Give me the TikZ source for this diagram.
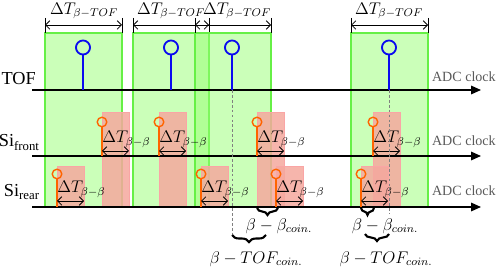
\documentclass[tikz,border=0pt]{standalone}
\usepackage{fontspec}
\setmainfont{Liberation Serif}
\usepackage{tikz}
\usetikzlibrary{arrows.meta, positioning, calc, decorations.pathreplacing}
\definecolor{wingreen}{RGB}{151,255,116}
\definecolor{winedge}{RGB}{102,240,70}
\definecolor{gatepink}{RGB}{245,168,158}
\definecolor{gateedge}{RGB}{250,165,165}
\definecolor{tofblue}{RGB}{10,10,240}
\definecolor{siorange}{RGB}{255,100,0}
\definecolor{clockgray}{RGB}{90,90,90}
\tikzset{
  window/.style={fill=wingreen, fill opacity=0.5, draw=winedge, line width=0.8pt},
  gate/.style={fill=gatepink, fill opacity=0.85, draw=gateedge, line width=0.5pt},
  axis/.style={-{Triangle[length=7pt, width=6pt]}, line width=1.1pt, color=black},
  tofhit/.style={circle, draw=tofblue, line width=1.3pt,
    minimum size=10pt, inner sep=0pt},
  tofstem/.style={line width=1.4pt, color=tofblue},
  sihit/.style={circle, draw=siorange, line width=1pt,
    minimum size=6.8pt, inner sep=0pt},
  sistem/.style={line width=1.1pt, color=siorange},
  dimarrow/.style={{Straight Barb[length=3pt]}-{Straight Barb[length=3pt]}, line width=0.6pt},
  dimline/.style={line width=0.6pt},
  dimlabel/.style={font=\large, inner sep=0pt},
  gatelabel/.style={font=\large, anchor=base west, inner sep=0pt},
  rowlabel/.style={font=\fontsize{13}{15}\selectfont, anchor=base east, inner sep=0pt},
  clocklabel/.style={font=\normalsize, color=clockgray, anchor=base east, inner sep=0pt},
  guide/.style={dash pattern=on 2pt off 1.5pt, color=gray, line width=0.4pt},
  coinbrace/.style={decorate, decoration={brace, mirror, amplitude=5pt}, line width=1.5pt},
  coinlabel/.style={font=\large, inner sep=0pt}
}

\begin{document}
\begin{tikzpicture}[x=0.025cm, y=-0.025cm]
  \useasboundingbox (0,0) rectangle (498,267);

  % Coincidence windows around the TOF hits
  \foreach \n/\l/\c/\r in {1/45/84/122, 2/133/171/209, 3/195/237/271, 4/351/389/428} {
    \draw[window] (\l,33) rectangle (\r,207);
    \coordinate (wl\n) at (\l,25);
    \coordinate (wr\n) at (\r,25);
    \draw[dimline] (\l,18) -- (\l,33) (\r,18) -- (\r,33);
    \draw[dimarrow] (wl\n) -- (wr\n);
    \node[dimlabel] (win\n) at (\c,11) {$\Delta T_{\beta-TOF}$};
  }

  % Gates opened by the Si hits
  \foreach \x in {102, 159, 257, 373}
    \draw[gate] (\x,112) rectangle ({\x+27},207);
  \foreach \x in {57, 201, 276, 361}
    \draw[gate] (\x,166) rectangle ({\x+27},207);

  % Time axes
  \coordinate (tofstart) at (32,90);
  \coordinate (tofend) at (481,90);
  \coordinate (frontstart) at (32,156);
  \coordinate (frontend) at (481,156);
  \coordinate (rearstart) at (32,207);
  \coordinate (rearend) at (481,207);
  \draw[axis] (tofstart) -- (tofend);
  \draw[axis] (frontstart) -- (frontend);
  \draw[axis] (rearstart) -- (rearend);
  \node[rowlabel] (toflabel) at (36,85) {TOF};
  \node[rowlabel] (frontlabel) at (40,147) {Si\textsubscript{front}};
  \node[rowlabel] (rearlabel) at (40,197) {Si\textsubscript{rear}};
  \node[clocklabel] (tofclock) at (496,82) {ADC clock};
  \node[clocklabel] (frontclock) at (496,146) {ADC clock};
  \node[clocklabel] (rearclock) at (496,196) {ADC clock};

  % TOF hits
  \foreach \n/\x in {1/83, 2/171, 3/232, 4/389} {
    \node[tofhit] (tof\n) at (\x,47.5) {};
    \draw[tofstem] (tof\n.south) -- (tof\n.south |- tofstart);
  }

  % Si front hits
  \foreach \n/\x in {1/102, 2/159, 3/257, 4/373} {
    \node[sihit] (front\n) at (\x,122) {};
    \draw[sistem] (front\n.south) -- (front\n.south |- frontstart);
    \coordinate (fgs\n) at (\x,151);
    \coordinate (fge\n) at ({\x+27},151);
    \draw[dimarrow] (fgs\n) -- (fge\n);
    \node[gatelabel] (fgl\n) at (\x,143) {$\Delta T_{\beta-\beta}$};
  }

  % Si rear hits
  \foreach \n/\x in {1/57, 2/201, 3/276, 4/361} {
    \node[sihit] (rear\n) at (\x,174) {};
    \draw[sistem] (rear\n.south) -- (rear\n.south |- rearstart);
    \coordinate (rgs\n) at (\x,201);
    \coordinate (rge\n) at ({\x+27},201);
    \draw[dimarrow] (rgs\n) -- (rge\n);
    \node[gatelabel] (rgl\n) at (\x,193) {$\Delta T_{\beta-\beta}$};
  }

  % Coincidences
  \coordinate (guide3) at (232,233);
  \coordinate (guide4) at (389,214);
  \draw[guide] (tof3.south |- tofstart) -- (guide3);
  \draw[guide] (tof4.south |- tofstart) -- (guide4);

  \draw[coinbrace] (257,208) -- (278,208);
  \node[coinlabel] (bb3) at (279,226) {$\beta-\beta_{coin.}$};
  \draw[coinbrace] (232,235) -- (266,235);
  \node[coinlabel] (bt3) at (256,259) {$\beta-TOF_{coin.}$};

  \draw[coinbrace] (361,208) -- (374,208);
  \node[coinlabel] (bb4) at (385,226) {$\beta-\beta_{coin.}$};
  \draw[coinbrace] (365,234) -- (389,234);
  \node[coinlabel] (bt4) at (386,259) {$\beta-TOF_{coin.}$};
\end{tikzpicture}
\end{document}
